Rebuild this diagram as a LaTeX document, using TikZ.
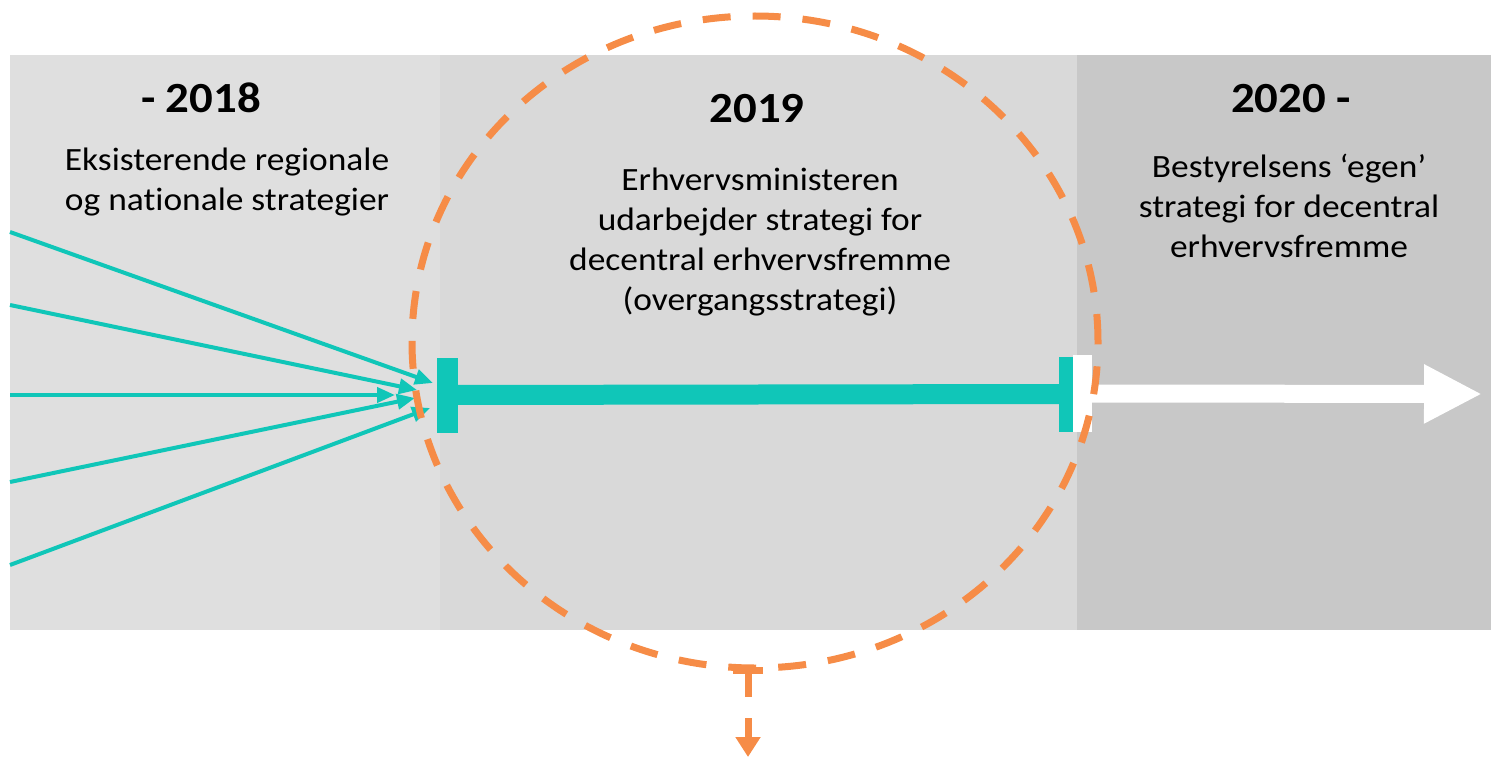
\documentclass[tikz,border=0pt]{standalone}
\usepackage{fontspec}
\setmainfont{Carlito}[Ligatures=NoCommon,FakeStretch=1.09]
\definecolor{pale-grey}{RGB}{223,223,223}
\definecolor{mid-grey}{RGB}{217,217,217}
\definecolor{dark-grey}{RGB}{200,200,200}
\definecolor{sea-teal}{RGB}{16,198,184}
\definecolor{flame-orange}{RGB}{246,140,71}
\usetikzlibrary{arrows.meta}
\usetikzlibrary{shapes.geometric}

\begin{document}
\begin{tikzpicture}[%
            x=1pt,y=-1pt,
            >={Triangle[length=18pt,width=15pt]},
            panel/.style={inner sep=0pt,minimum height=575pt,anchor=north west},
            year/.style={font=\fontsize{43}{50}\selectfont\bfseries,anchor=base},
            blurb/.style={font=\fontsize{32.5}{40}\selectfont,align=center,anchor=base},
            feed/.style={sea-teal,line width=4pt},
            stopper/.style={fill=sea-teal,inner sep=0pt,minimum height=75pt},
            marker/.style={flame-orange,line width=7pt}
          ]
            \useasboundingbox (0,0) rectangle (1491,757);

            % the three periods
            \node [panel,fill=pale-grey,minimum width=430pt] (past) at (10,55) {};
            \node [panel,fill=mid-grey,minimum width=637pt] (now) at (440,55) {};
            \node [panel,fill=dark-grey,minimum width=414pt] (later) at (1077,55) {};

            \node [year] (y2018) at (201,113) {- 2018};
            \node [year] (y2019) at (757,123) {2019};
            \node [year] (y2020) at (1291,113) {2020 -};

            % anchor=base sits on the last line
            \node [blurb] (existing) at (227,210) {Eksisterende regionale\\og nationale strategier};
            \node [blurb] (interim) at (760,310) {Erhvervsministeren\\udarbejder strategi for\\decentral erhvervsfremme\\(overgangsstrategi)};
            \node [blurb] (own) at (1289,257) {Bestyrelsens ‘egen’\\strategi for decentral\\erhvervsfremme};

            % incoming strategies
            \foreach \ya/\xb/\yb [count=\i] in {232/433/383,305/417/390,395/395/395,482/415/398,565/430/408} {
              \coordinate (src\i) at (10,\ya);
              \coordinate (hit\i) at (\xb,\yb);
              \draw [feed,->] (src\i) -- (hit\i);
            }

            % transition period
            \node [stopper,minimum width=21pt] (startcap) at (447,395) {};
            \node [stopper,minimum width=14pt] (endcap) at (1066,394) {};
            \draw [sea-teal,line width=20pt] (startcap) -- (endcap);

            \node [fill=white,inner sep=0pt,minimum width=19pt,minimum height=77pt] (handover) at (1082.5,393.5) {};
            \coordinate (future) at (1482,394);
            \draw [white,line width=18pt,-{Triangle[length=58pt,width=55pt]}] (handover.east) -- (future);

            % focus on 2019
            \node [ellipse,draw=flame-orange,line width=7pt,dash pattern=on 28pt off 22pt,
              inner sep=0pt,minimum width=686pt,minimum height=652pt] (focus) at (755,342) {};
            \coordinate (drop) at (748,670);
            \coordinate (outcome) at (748,757);
            \draw [marker] ([xshift=-15pt]drop) -- ([xshift=15pt]drop);
            \draw [marker,dash pattern=on 27pt off 21pt,-{Triangle[length=20pt,width=24pt]}] (drop) -- (outcome);
          \end{tikzpicture}
\end{document}
